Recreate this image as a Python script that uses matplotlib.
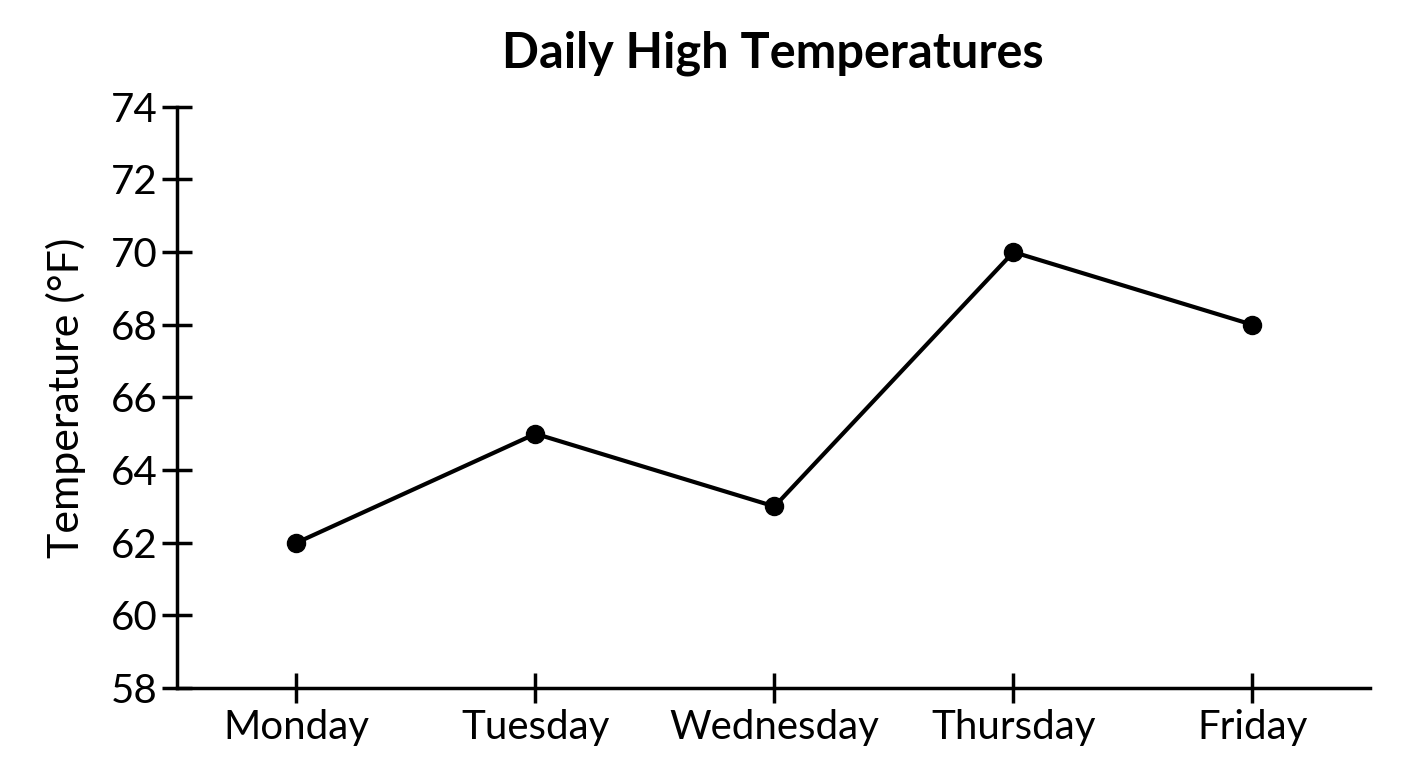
import matplotlib
matplotlib.use("Agg")
import matplotlib.pyplot as plt

days = ["Monday", "Tuesday", "Wednesday", "Thursday", "Friday"]
temps = [62, 65, 63, 70, 68]
yticks = [58, 60, 62, 64, 66, 68, 70, 72, 74]

plt.rcParams['font.family'] = ['Lato', 'DejaVu Sans']

fig = plt.figure(figsize=(14.08, 7.68), dpi=100)
ax = fig.add_axes([0.1257, 0.104, 0.847, 0.757])

x = list(range(len(days)))
ax.plot(x, temps, color="black", lw=3, marker="o", ms=13)

ax.set_xlim(-0.5, 4.49)
ax.set_ylim(58, 74)
ax.set_xticks(x)
ax.set_xticklabels(days)
ax.set_yticks(yticks)
ax.tick_params(direction="inout", length=22, width=2.5, labelsize=29, pad=3)
ax.tick_params(axis="x", pad=4)

for s in ["top", "right"]:
    ax.spines[s].set_visible(False)
for s in ["left", "bottom"]:
    ax.spines[s].set_linewidth(2.5)

ax.set_ylabel("Temperature (°F)", fontsize=31, labelpad=18)
ax.set_title("Daily High Temperatures", fontsize=35, fontweight="bold", pad=28)

fig.savefig("out.png", dpi=100)
